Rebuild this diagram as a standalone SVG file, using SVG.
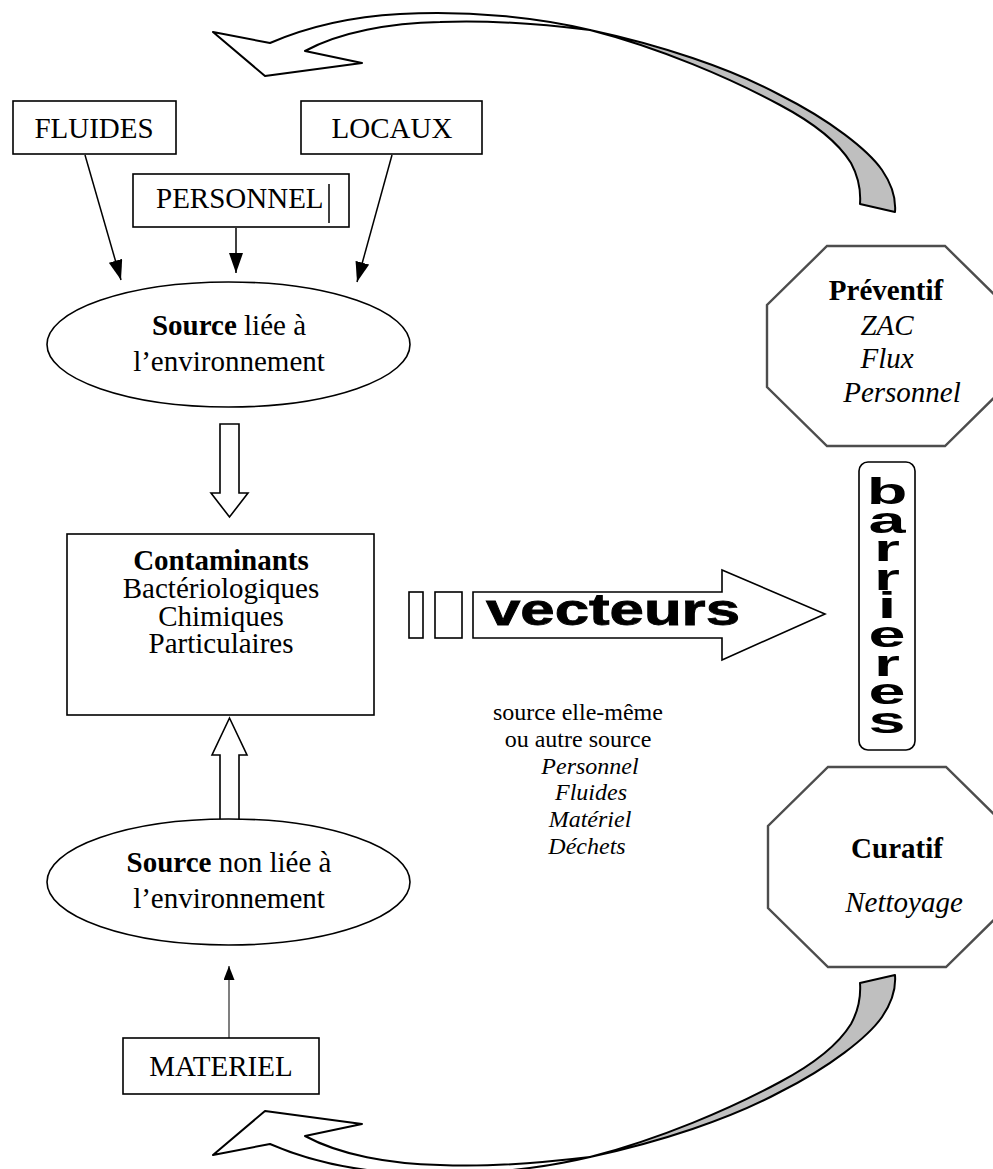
<svg xmlns="http://www.w3.org/2000/svg" width="993" height="1169" viewBox="0 0 993 1169">
  <style>
    .bg { fill: #ffffff; }
    .box { fill: #ffffff; stroke: #000000; stroke-width: 1.6; }
    .oct { fill: #ffffff; stroke: #4d4d4d; stroke-width: 2.4; }
    .line { fill: none; stroke: #000000; stroke-width: 1.5; }
    .hollow { fill: #ffffff; stroke: #000000; stroke-width: 1.6; stroke-linejoin: miter; }
    .band { fill: #ffffff; stroke: #000000; stroke-width: 2; stroke-linejoin: round; }
    .bandGrey { fill: #bfbfbf; stroke: #000000; stroke-width: 2; stroke-linejoin: round; }
    .t { font-family: "Liberation Serif", "Times New Roman", serif; font-size: 29px; fill: #000000; }
    .s { font-size: 24px; }
    .tc { text-anchor: middle; }
    .b { font-weight: bold; }
    .i { font-style: italic; }
    .sans { font-family: "Liberation Sans", Arial, sans-serif; font-weight: bold; fill: #000000; }
  </style>
  <defs>
    <marker id="ah" markerUnits="userSpaceOnUse" markerWidth="20" markerHeight="14" refX="20" refY="7" orient="auto">
      <path d="M0,0 L20,7 L0,14 Z" fill="#000000"/>
    </marker>
    <marker id="ahs" markerUnits="userSpaceOnUse" markerWidth="14" markerHeight="11" refX="14" refY="5.5" orient="auto">
      <path d="M0,0 L14,5.5 L0,11 Z" fill="#000000"/>
    </marker>
  </defs>

  <rect class="bg" x="0" y="0" width="993" height="1169"/>

  <!-- connectors -->
  <g id="connectors">
    <!-- thin arrows feeding the environment source -->
    <line class="line" x1="85" y1="155" x2="121" y2="280" marker-end="url(#ah)"/>
    <line class="line" x1="236" y1="228" x2="236" y2="273" marker-end="url(#ah)"/>
    <line class="line" x1="392" y1="155" x2="357" y2="282" marker-end="url(#ah)"/>
    <line x1="229" y1="1038" x2="229" y2="966" stroke="#555555" stroke-width="1.5" marker-end="url(#ahs)"/>

    <!-- hollow block arrows into the contaminants box -->
    <path class="hollow" d="M220,424 H239 V493 H248 L229.5,517 L211,493 H220 Z"/>
    <path class="hollow" d="M220,823 H239 V755 H247 L229.5,718 L212,755 H220 Z"/>

    <!-- vecteurs arrow -->
    <g id="vecteurs">
      <rect class="hollow" x="409" y="592" width="14" height="46"/>
      <rect class="hollow" x="435" y="592" width="27" height="46"/>
      <path class="hollow" d="M473,592 H722 V570 L825,614 L722,660 V638 H473 Z"/>
      <text class="sans" x="486" y="625" font-size="44" textLength="254" lengthAdjust="spacingAndGlyphs" stroke="#000000" stroke-width="0.8">vecteurs</text>
    </g>

    <!-- curved loop arrow, top -->
    <g id="loop-top">
      <path class="band" d="M213,32 L270,43 C300,30 345,17 400,14 C470,10 540,18 590,30 C540,24 480,20 440,22 C390,23 340,32 305,51 L362,63 L265,76 Z"/>
      <path class="bandGrey" d="M590,30 C660,45 730,68 780,95 C830,120 868,150 882,170 C893,186 896,200 895,212 L860,204 C861,190 858,176 851,163 C838,142 812,122 780,105 C730,78 660,48 590,30 Z"/>
    </g>
    <!-- curved loop arrow, bottom (mirror of the top one) -->
    <g id="loop-bottom" transform="matrix(1 0 0 -1 0 1187)">
      <path class="band" d="M213,32 L270,43 C300,30 345,17 400,14 C470,10 540,18 590,30 C540,24 480,20 440,22 C390,23 340,32 305,51 L362,63 L265,76 Z"/>
      <path class="bandGrey" d="M590,30 C660,45 730,68 780,95 C830,120 868,150 882,170 C893,186 896,200 895,212 L860,204 C861,190 858,176 851,163 C838,142 812,122 780,105 C730,78 660,48 590,30 Z"/>
    </g>
  </g>

  <!-- nodes -->
  <g id="fluides">
    <rect class="box" x="13" y="101" width="163" height="53"/>
    <text class="t tc" x="94" y="138">FLUIDES</text>
  </g>

  <g id="locaux">
    <rect class="box" x="301" y="101" width="181" height="53"/>
    <text class="t tc" x="392" y="138">LOCAUX</text>
  </g>

  <g id="personnel">
    <rect class="box" x="133" y="174" width="216" height="53"/>
    <text class="t" x="156" y="208">PERSONNEL</text>
    <line x1="329" y1="184" x2="329" y2="223" stroke="#000000" stroke-width="1.5"/>
  </g>

  <g id="source-env">
    <ellipse class="box" cx="228.5" cy="344.5" rx="181.5" ry="62.5"/>
    <text class="t tc" x="229" y="335"><tspan class="b">Source</tspan> liée à</text>
    <text class="t tc" x="229" y="371">l’environnement</text>
  </g>

  <g id="contaminants">
    <rect class="box" x="67" y="534" width="307" height="181"/>
    <text class="t tc b" x="221" y="570">Contaminants</text>
    <text class="t tc" x="221" y="598">Bactériologiques</text>
    <text class="t tc" x="221" y="626">Chimiques</text>
    <text class="t tc" x="221" y="653">Particulaires</text>
  </g>

  <g id="source-non-env">
    <ellipse class="box" cx="228.5" cy="882" rx="181.5" ry="63"/>
    <text class="t tc" x="229" y="872"><tspan class="b">Source</tspan> non liée à</text>
    <text class="t tc" x="229" y="908">l’environnement</text>
  </g>

  <g id="materiel">
    <rect class="box" x="123" y="1038" width="196" height="56"/>
    <text class="t tc" x="221" y="1076">MATERIEL</text>
  </g>

  <g id="vecteurs-list">
    <text class="t s tc" x="578" y="720">source elle-même</text>
    <text class="t s tc" x="578" y="747">ou autre source</text>
    <text class="t s tc i" x="590" y="774">Personnel</text>
    <text class="t s tc i" x="591" y="800">Fluides</text>
    <text class="t s tc i" x="590" y="827">Matériel</text>
    <text class="t s tc i" x="587" y="854">Déchets</text>
  </g>

  <g id="preventif">
    <path class="oct" d="M827,246 H945 L1005,305 V387 L945,446 H827 L767,387 V305 Z"/>
    <text class="t tc b" x="886" y="300">Préventif</text>
    <text class="t tc i" x="887" y="335">ZAC</text>
    <text class="t tc i" x="887" y="368">Flux</text>
    <text class="t tc i" x="902" y="402">Personnel</text>
  </g>

  <g id="barrieres">
    <rect class="box" x="859" y="462" width="56" height="288" rx="9" ry="9"/>
    <!-- upright letters stacked in vertical writing mode, widened horizontally -->
    <g transform="translate(887 0) scale(1.85 1)">
      <text class="sans" x="0" y="472" font-size="36" textLength="268" lengthAdjust="spacing" style="writing-mode: vertical-lr; text-orientation: upright;">barrieres</text>
    </g>
  </g>

  <g id="curatif">
    <path class="oct" d="M828,767 H946 L1006,826 V908 L946,967 H828 L768,908 V826 Z"/>
    <text class="t tc b" x="897" y="858">Curatif</text>
    <text class="t tc i" x="904" y="912">Nettoyage</text>
  </g>
</svg>
